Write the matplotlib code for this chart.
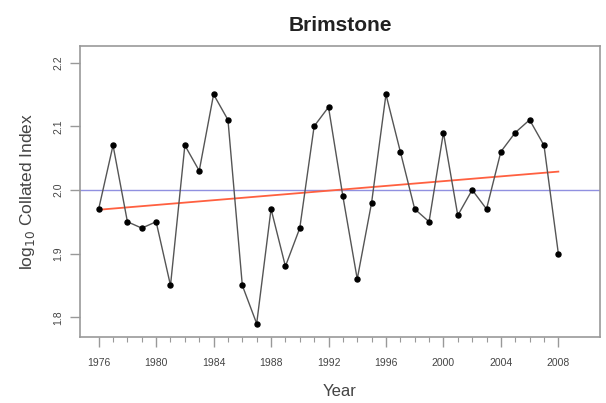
import numpy as np
import matplotlib
matplotlib.use("Agg")
import matplotlib.pyplot as plt

plt.rcParams['font.family'] = ['Liberation Sans', 'DejaVu Sans']

years = np.arange(1976, 2009)
index = [1.97, 2.07, 1.95, 1.94, 1.95, 1.85, 2.07, 2.03, 2.15, 2.11,
         1.85, 1.79, 1.97, 1.88, 1.94, 2.10, 2.13, 1.99, 1.86, 1.98,
         2.15, 2.06, 1.97, 1.95, 2.09, 1.96, 2.00, 1.97, 2.06, 2.09,
         2.11, 2.07, 1.90]
baseline = 2.0

fig = plt.figure(figsize=(6.06, 4.03), dpi=100)
ax = fig.add_axes([80 / 606, 1 - 337 / 403, 520 / 606, 291 / 403])

ax.axhline(baseline, color='#9090e0', lw=1.0, zorder=1)

# linear trend through the series
m, b = np.polyfit(years, index, 1)
ax.plot(years[[0, -1]], m * years[[0, -1]] + b, color='#ff6040', lw=1.3, zorder=2)

ax.plot(years, index, color='#555555', lw=1.0, zorder=3)
ax.plot(years, index, 'o', color='black', ms=3.6, zorder=4)

ax.set_xlim(1974.7, 2010.9)
ax.set_ylim(1.769, 2.226)
ax.set_xticks(np.arange(1976, 2009, 4))
ax.set_xticks(years, minor=True)
ax.set_yticks([1.8, 1.9, 2.0, 2.1, 2.2])
ax.set_yticklabels(['1.8', '1.9', '2.0', '2.1', '2.2'], rotation=90, va='center')

for s in ax.spines.values():
    s.set_color('#999999')
    s.set_linewidth(1.2)
ax.tick_params(which='major', length=7, width=1, color='#999999',
               labelsize=7.5, labelcolor='#444444', pad=8)
ax.tick_params(which='minor', length=3.5, width=0.8, color='#999999')
ax.tick_params(axis='y', pad=5)

ax.set_title('Brimstone', fontsize=15, fontweight='bold', color='#222222', pad=11)
ax.set_xlabel('Year', fontsize=12, color='#444444', labelpad=12)
ax.set_ylabel('log$_{10}$ Collated Index', fontsize=12.5, color='#444444', labelpad=12)

fig.savefig('out.png', dpi=100)
